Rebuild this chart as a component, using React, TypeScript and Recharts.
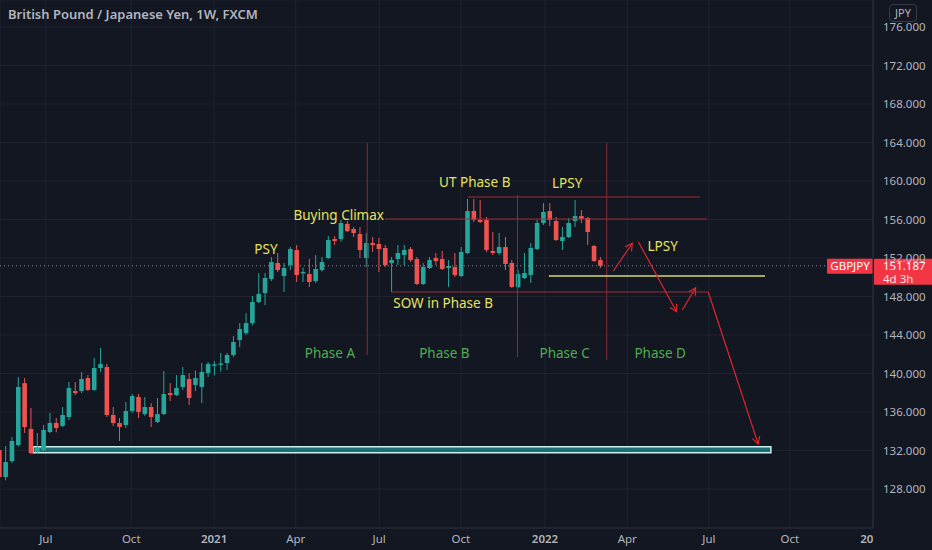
import React from 'react';
import {
  ComposedChart,
  Bar,
  XAxis,
  YAxis,
  CartesianGrid,
  ReferenceLine,
  ReferenceArea,
  ReferenceDot
} from 'recharts';

// weekly GBP/JPY candles (mid May 2020 .. mid March 2022)
const opens = [
  132.05, 129.25, 130.91, 132.57, 139.0, 134.24, 131.84, 132.05, 133.92, 134.86,
  134.55, 135.48, 138.18, 138.18, 139.53, 138.29, 140.57, 140.67, 135.69, 134.86,
  134.65, 136.1, 137.56, 135.79, 136.52, 134.96, 135.79, 137.97, 137.76, 138.6,
  139.43, 138.81, 138.6, 140.05, 140.8, 140.9, 141.09, 141.92, 143.48, 144.2,
  145.24, 147.43, 148.36, 149.82, 151.48, 150.13, 151.27, 152.83, 150.4, 150.34,
  149.61, 150.75, 152.0, 153.97, 153.97, 155.53, 155.01, 154.49, 152.0, 153.56,
  153.45, 153.04, 151.48, 151.89, 152.31, 152.93, 151.89, 149.3, 150.96, 152.0,
  151.89, 150.96, 151.06, 150.13, 152.52, 156.88, 155.95, 155.95, 152.73, 152.52,
  153.14, 151.48, 148.99, 149.92, 150.23, 152.93, 155.64, 156.88, 155.84, 153.77,
  154.18, 155.84, 156.36, 156.16, 153.25, 151.79
];
const highs = [
  132.57, 132.47, 133.4, 139.64, 139.53, 136.41, 133.82, 134.65, 135.9, 135.38,
  136.52, 139.12, 139.12, 140.16, 139.84, 141.61, 142.65, 140.99, 136.52, 135.38,
  137.04, 137.87, 137.87, 137.56, 136.93, 137.45, 140.26, 139.01, 139.84, 140.67,
  140.05, 140.3, 141.09, 141.19, 141.3, 142.13, 142.13, 143.89, 145.24, 146.28,
  148.05, 150.44, 150.44, 152.1, 152.52, 151.48, 153.14, 153.35, 151.0, 151.89,
  152.31, 152.1, 154.28, 154.28, 155.95, 155.84, 155.22, 155.22, 154.6, 154.18,
  154.07, 153.35, 152.1, 153.35, 153.35, 153.14, 152.1, 151.48, 152.1, 152.52,
  152.73, 151.79, 152.52, 153.14, 158.13, 158.13, 158.03, 156.26, 154.7, 154.6,
  154.18, 151.79, 150.75, 152.52, 153.56, 155.95, 157.71, 157.71, 156.26, 155.22,
  156.16, 158.03, 156.98, 156.26, 153.35, 152.1
];
const lows = [
  128.93, 128.9, 130.7, 132.4, 133.82, 131.6, 131.74, 131.95, 133.8, 133.9,
  134.44, 135.17, 137.76, 137.97, 138.18, 138.2, 140.16, 135.48, 134.55, 132.99,
  134.34, 135.9, 135.38, 135.6, 134.44, 134.86, 135.69, 137.14, 137.66, 138.29,
  136.73, 138.18, 136.93, 139.64, 139.8, 140.2, 140.4, 141.7, 142.75, 144.0,
  145.0, 147.3, 147.11, 149.6, 150.54, 148.47, 150.75, 149.51, 149.5, 148.99,
  149.4, 150.6, 151.9, 153.35, 153.7, 154.7, 154.18, 152.0, 151.06, 152.62,
  150.54, 151.06, 148.47, 151.27, 151.27, 151.58, 149.19, 149.19, 150.86, 151.27,
  150.75, 148.99, 150.02, 150.02, 152.4, 155.74, 155.64, 152.62, 152.31, 152.31,
  150.75, 148.89, 148.89, 149.82, 149.4, 152.83, 155.43, 155.33, 153.77, 152.83,
  154.07, 155.22, 155.64, 153.35, 151.58, 150.96
];
const closes = [
  129.25, 130.8, 132.99, 138.6, 134.44, 131.74, 132.26, 134.13, 134.86, 134.34,
  135.69, 138.49, 137.97, 139.43, 138.29, 140.57, 140.99, 135.69, 134.86, 134.44,
  136.1, 137.66, 136.0, 136.52, 135.48, 135.79, 137.87, 137.76, 138.49, 139.84,
  137.45, 139.53, 140.16, 140.99, 140.95, 141.05, 141.92, 143.27, 144.62, 145.24,
  147.43, 148.26, 149.92, 151.58, 150.75, 150.96, 152.93, 150.23, 150.55, 149.51,
  150.86, 151.58, 153.87, 153.77, 155.64, 154.8, 154.6, 152.83, 153.56, 153.35,
  152.93, 151.27, 151.79, 152.52, 152.83, 151.79, 149.3, 151.06, 151.79, 151.69,
  150.86, 151.17, 150.23, 152.62, 156.88, 155.95, 155.74, 152.83, 152.52, 153.14,
  151.38, 148.99, 150.34, 150.44, 153.04, 155.64, 156.78, 155.95, 153.87, 154.18,
  155.64, 156.36, 156.05, 154.7, 151.69, 151.187
];

// time axis: week index (0 = week of 18 May 2020)
const timeTicks = [6.4, 19.9, 33.0, 45.9, 59.1, 72.0, 85.3, 98.3, 111.2, 124.0, 137.2];
const timeLabels = ['Jul', 'Oct', '2021', 'Apr', 'Jul', 'Oct', '2022', 'Apr', 'Jul', 'Oct', '2023'];
const priceTicks = [128, 132, 136, 140, 144, 148, 152, 156, 160, 164, 168, 172, 176];
const lastPrice = 151.187;

// drawn levels and phase dividers (week, price)
const redLevels = [
  { a: [60.0, 156.05], b: [110.9, 156.05] },
  { a: [73.1, 158.34], b: [109.8, 158.34] },
  { a: [61.0, 148.47], b: [111.1, 148.47] }
];
const phaseDividers = [
  { a: [57.2, 163.95], b: [57.2, 141.92] },
  { a: [80.95, 158.54], b: [80.95, 141.71] },
  { a: [95.05, 163.95], b: [95.05, 141.4] }
];
const yellowLevel = { a: [85.9, 150.13], b: [120.07, 150.13] };
const arrows = [
  { a: [96.1, 150.65], b: [99.1, 153.53] },
  { a: [100.05, 153.69], b: [106.1, 146.42] },
  { a: [107.0, 146.6], b: [109.1, 148.91] },
  { a: [111.1, 148.47], b: [119.0, 132.67] }
];
const supportZone = { x1: 4.38, x2: 121.0, y1: 131.77, y2: 132.39 };

const wyckoffLabels = [
  { text: 'PSY', w: 41.2, p: 152.93 },
  { text: 'Buying Climax', w: 52.7, p: 156.47 },
  { text: 'UT Phase B', w: 74.2, p: 159.9 },
  { text: 'LPSY', w: 88.8, p: 159.79 },
  { text: 'LPSY', w: 103.9, p: 153.25 },
  { text: 'SOW in Phase B', w: 69.2, p: 147.32 }
];
const phaseLabels = [
  { text: 'Phase A', w: 51.3, p: 142.13 },
  { text: 'Phase B', w: 69.4, p: 142.13 },
  { text: 'Phase C', w: 88.4, p: 142.13 },
  { text: 'Phase D', w: 103.5, p: 142.13 }
];

const BG = '#131722';
const GRID = '#1f2330';
const AXIS_TEXT = '#b2b5be';
const UP = '#26a69a';
const DOWN = '#ef5350';
const FONT = '"Noto Sans", sans-serif';

const candles = opens.map((open, i) => ({
  week: i - 1,
  open,
  high: highs[i],
  low: lows[i],
  close: closes[i],
  range: [lows[i], highs[i]]
}));

const Candle = (props: any) => {
  const { x, y, width, height, payload } = props;
  if (x == null || y == null) return null;
  const { open, high, low, close } = payload;
  const top = Math.min(y, y + height);
  const h = Math.abs(height);
  const ppu = h / (high - low || 1);
  const cx = x + width / 2;
  const yO = top + (high - open) * ppu;
  const yC = top + (high - close) * ppu;
  const color = close >= open ? UP : DOWN;
  const bodyTop = Math.min(yO, yC);
  const bodyH = Math.max(1, Math.abs(yO - yC));
  return (
    <g>
      <line x1={cx} x2={cx} y1={top} y2={top + h} stroke={color} strokeWidth={1} />
      <rect x={cx - 2.3} y={bodyTop} width={4.6} height={bodyH} fill={color} />
    </g>
  );
};

const ArrowLine = (props: any) => {
  const { x1, y1, x2, y2 } = props;
  const ang = Math.atan2(y2 - y1, x2 - x1);
  const len = 8;
  const spread = 0.5;
  const p1x = x2 - len * Math.cos(ang - spread);
  const p1y = y2 - len * Math.sin(ang - spread);
  const p2x = x2 - len * Math.cos(ang + spread);
  const p2y = y2 - len * Math.sin(ang + spread);
  return (
    <g stroke="#e0262f" strokeWidth={1.2} fill="none">
      <line x1={x1} y1={y1} x2={x2} y2={y2} />
      <polyline points={`${p1x},${p1y} ${x2},${y2} ${p2x},${p2y}`} />
    </g>
  );
};

const seg = (s: { a: number[]; b: number[] }) => [
  { x: s.a[0], y: s.a[1] },
  { x: s.b[0], y: s.b[1] }
];

const TimeTick = (props: any) => {
  const { x, y, payload } = props;
  const i = timeTicks.indexOf(payload.value);
  const label = timeLabels[i] ?? '';
  const isYear = /^\d{4}$/.test(label);
  return (
    <text
      x={x}
      y={y + 7}
      textAnchor="middle"
      fill={AXIS_TEXT}
      fontSize={11.5}
      fontFamily={FONT}
      fontWeight={isYear ? 600 : 400}
      clipPath="url(#plotClipX)"
    >
      {label}
    </text>
  );
};

const PriceTick = (props: any) => {
  const { y, payload } = props;
  return (
    <text x={883} y={y + 4} textAnchor="start" fill={AXIS_TEXT} fontSize={11.5} fontFamily={FONT}>
      {payload.value.toFixed(3)}
    </text>
  );
};

const PriceBadge = (props: any) => {
  const { viewBox } = props;
  if (!viewBox) return null;
  const right = viewBox.x + viewBox.width;
  const yy = viewBox.y;
  return (
    <g fontFamily={FONT}>
      <rect x={right - 46} y={yy - 7} width={46} height={15} fill="#f23645" rx={1} />
      <text x={right - 23} y={yy + 4} textAnchor="middle" fill="#fff" fontSize={11.5}>
        GBPJPY
      </text>
      <rect x={right + 1} y={yy - 7} width={60} height={26} fill="#f23645" rx={1} />
      <text x={right + 10} y={yy + 4} fill="#fff" fontSize={11.5}>
        {lastPrice.toFixed(3)}
      </text>
      <text x={right + 10} y={yy + 17} fill="#fff" fontSize={11.5} opacity={0.85}>
        4d 3h
      </text>
    </g>
  );
};

const textShape = (text: string, color: string) => (p: any) => (
  <text
    x={p.cx}
    y={p.cy}
    dy={5}
    textAnchor="middle"
    fill={color}
    fontSize={13.5}
    fontFamily={FONT}
  >
    {text}
  </text>
);

export default function App() {
  return (
    <div
      style={{
        position: 'absolute',
        left: 0,
        top: 0,
        width: 932,
        height: 550,
        background: BG,
        overflow: 'hidden',
        fontFamily: FONT
      }}
    >
      <ComposedChart
        width={932}
        height={550}
        data={candles}
        margin={{ top: 0, right: 0, bottom: 0, left: 0 }}
      >
        <defs>
          <clipPath id="plotClipX">
            <rect x={0} y={0} width={873} height={550} />
          </clipPath>
        </defs>
        <CartesianGrid stroke={GRID} vertical horizontal />
        <XAxis
          dataKey="week"
          type="number"
          domain={[-0.838, 137.14]}
          ticks={timeTicks}
          tick={<TimeTick />}
          tickLine={false}
          axisLine={{ stroke: '#2a2e39' }}
          height={22}
          allowDataOverflow
          interval={0}
        />
        <YAxis
          orientation="right"
          type="number"
          domain={[123.95, 178.805]}
          ticks={priceTicks}
          tick={<PriceTick />}
          tickLine={false}
          axisLine={{ stroke: '#2a2e39' }}
          width={59}
          allowDataOverflow
          interval={0}
        />
        <ReferenceArea
          x1={supportZone.x1}
          x2={supportZone.x2}
          y1={supportZone.y1}
          y2={supportZone.y2}
          fill="#1f6d73"
          fillOpacity={1}
          stroke="#c8f0f0"
          strokeWidth={1.5}
          ifOverflow="visible"
        />
        {phaseDividers.map((s, i) => (
          <ReferenceLine key={`pd-${i}`} segment={seg(s)} stroke="#8a2b33" strokeWidth={1} ifOverflow="visible" />
        ))}
        {redLevels.map((s, i) => (
          <ReferenceLine key={`rl-${i}`} segment={seg(s)} stroke="#9c2e36" strokeWidth={1} ifOverflow="visible" />
        ))}
        <ReferenceLine segment={seg(yellowLevel)} stroke="#d9d66b" strokeWidth={1.3} ifOverflow="visible" />
        <ReferenceLine
          y={lastPrice}
          stroke="#8f93a0"
          strokeDasharray="1 3"
          strokeWidth={1}
          label={<PriceBadge />}
        />
        <Bar dataKey="range" shape={<Candle />} barSize={5} isAnimationActive={false} />
        {arrows.map((s, i) => (
          <ReferenceLine key={`ar-${i}`} segment={seg(s)} shape={ArrowLine} ifOverflow="visible" />
        ))}
        {wyckoffLabels.map((l, i) => (
          <ReferenceDot key={`wl-${i}`} x={l.w} y={l.p} r={0} shape={textShape(l.text, '#e6e35e')} ifOverflow="visible" />
        ))}
        {phaseLabels.map((l, i) => (
          <ReferenceDot key={`ph-${i}`} x={l.w} y={l.p} r={0} shape={textShape(l.text, '#4caf50')} ifOverflow="visible" />
        ))}
      </ComposedChart>
      <div
        style={{
          position: 'absolute',
          left: 8,
          top: 5,
          color: AXIS_TEXT,
          fontSize: 13,
          fontWeight: 600,
          letterSpacing: 0
        }}
      >
        British Pound / Japanese Yen, 1W, FXCM
      </div>
      <div
        style={{
          position: 'absolute',
          left: 889,
          top: 4,
          width: 26,
          height: 16,
          border: '1px solid #363a45',
          borderRadius: 4,
          color: AXIS_TEXT,
          fontSize: 11,
          lineHeight: '16px',
          textAlign: 'center'
        }}
      >
        JPY
      </div>
    </div>
  );
}
